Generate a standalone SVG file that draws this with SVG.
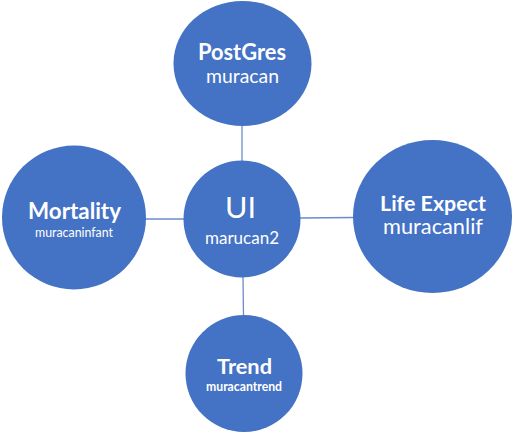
<svg xmlns="http://www.w3.org/2000/svg" width="513" height="434" viewBox="0 0 513 434">
<style>
.n{fill:#4472C4}
.c{stroke:#6A8CCB;stroke-width:1.3;fill:none}
text{fill:#fff;font-family:Lato,"Open Sans","Liberation Sans",sans-serif;text-anchor:middle}
.b{font-weight:bold}
</style>
<rect width="513" height="434" fill="#fff"/>
<g id="connectors">
<line class="c" x1="242" y1="124" x2="242" y2="161"/>
<line class="c" x1="145" y1="219" x2="185" y2="219"/>
<line class="c" x1="299" y1="218" x2="354" y2="217.5"/>
<line class="c" x1="243" y1="277" x2="243.5" y2="316"/>
</g>
<g id="postgres">
<ellipse class="n" cx="242.5" cy="63.5" rx="69" ry="62.5"/>
<text class="b" x="242" y="60" font-size="22" textLength="88" lengthAdjust="spacingAndGlyphs">PostGres</text>
<text x="242.5" y="83" font-size="19" textLength="73" lengthAdjust="spacingAndGlyphs">muracan</text>
</g>
<g id="ui">
<circle class="n" cx="242" cy="219" r="58.5"/>
<text x="240.5" y="218" font-size="29" textLength="31" lengthAdjust="spacingAndGlyphs">UI</text>
<text x="242" y="244" font-size="17" textLength="74" lengthAdjust="spacingAndGlyphs">marucan2</text>
</g>
<g id="mortality">
<circle class="n" cx="74" cy="217.5" r="72"/>
<text class="b" x="74.5" y="218.5" font-size="22" textLength="93" lengthAdjust="spacingAndGlyphs">Mortality</text>
<text x="74" y="236.5" font-size="12.5" textLength="78" lengthAdjust="spacingAndGlyphs">muracaninfant</text>
</g>
<g id="lifeexpect">
<ellipse class="n" cx="432.5" cy="216.5" rx="79.5" ry="76.5"/>
<text class="b" x="433" y="211" font-size="21" textLength="106" lengthAdjust="spacingAndGlyphs">Life Expect</text>
<text x="433" y="234" font-size="21" textLength="100" lengthAdjust="spacingAndGlyphs">muracanlif</text>
</g>
<g id="trend">
<circle class="n" cx="244" cy="373.5" r="58.5"/>
<text class="b" x="244.5" y="374" font-size="21" textLength="55" lengthAdjust="spacingAndGlyphs">Trend</text>
<text class="b" x="244" y="391" font-size="13" textLength="76" lengthAdjust="spacingAndGlyphs">muracantrend</text>
</g>
</svg>
